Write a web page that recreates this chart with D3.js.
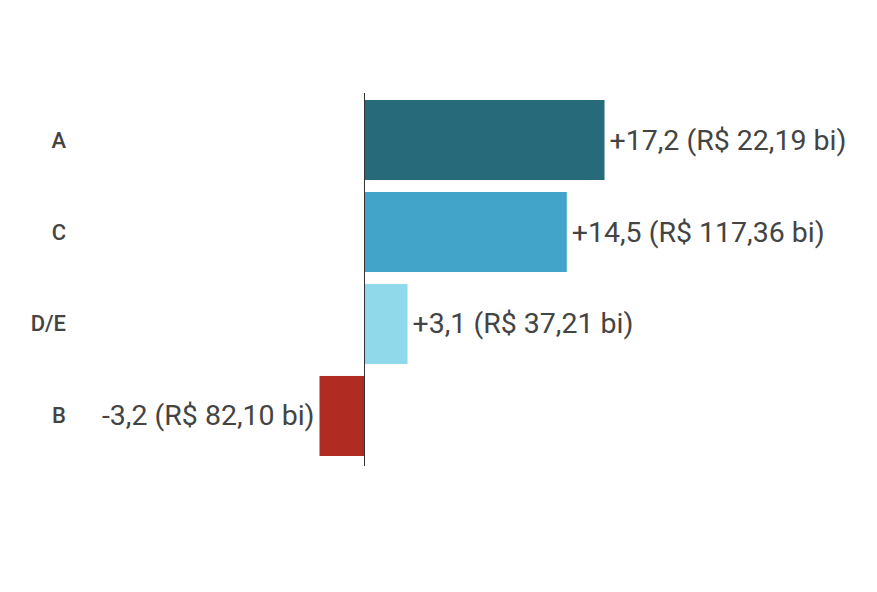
<!DOCTYPE html>
<html>
<head>
<meta charset="utf-8">
<script src="https://cdn.jsdelivr.net/npm/d3@7"></script>
<style>
  body { margin: 0; background: #fff; }
  svg { font-family: Roboto, "Noto Sans", sans-serif; }
</style>
</head>
<body>
<svg id="main" width="877" height="592"></svg>
<script>
    // data
    const categories = ["A", "C", "D/E", "B"];
    const values = [17.2, 14.5, 3.1, -3.2];
    const labels = ["+17,2 (R$ 22,19 bi)", "+14,5 (R$ 117,36 bi)", "+3,1 (R$ 37,21 bi)", "-3,2 (R$ 82,10 bi)"];
    const colors = ["#276b7b", "#42a4c8", "#8fd9ea", "#b02b22"];

    const svg = d3.select('svg#main');

    const x = d3.scaleLinear()
        .domain([-3.2, 17.2])
        .range([319.5, 604.5]);

    const y = d3.scaleBand()
        .domain(categories)
        .range([92, 464])
        .paddingInner(0.13)
        .paddingOuter(0.087);

    const dataSet = categories.map((c, i) => ({cat: c, v: values[i], label: labels[i], color: colors[i]}));

    // bars
    svg.append("g")
        .selectAll("rect")
        .data(dataSet)
        .enter()
        .append("rect")
        .attr("x", d => x(Math.min(0, d.v)))
        .attr("width", d => Math.abs(x(d.v) - x(0)))
        .attr("y", d => y(d.cat))
        .attr("height", y.bandwidth())
        .attr("fill", d => d.color);

    // zero line
    svg.append("line")
        .attr("x1", x(0)).attr("x2", x(0))
        .attr("y1", 93).attr("y2", 466)
        .attr("stroke", "#333")
        .attr("stroke-width", 1)
        .attr("shape-rendering", "crispEdges");

    // category labels
    svg.append("g")
        .selectAll("text")
        .data(dataSet)
        .enter()
        .append("text")
        .attr("x", 66)
        .attr("y", d => y(d.cat) + y.bandwidth() / 2)
        .attr("text-anchor", "end")
        .attr("dominant-baseline", "central")
        .attr("fill", "#444")
        .style("font-size", "22px")
        .style("font-weight", 500)
        .text(d => d.cat);

    // value labels
    svg.append("g")
        .selectAll("text")
        .data(dataSet)
        .enter()
        .append("text")
        .attr("x", d => d.v >= 0 ? x(d.v) + 5 : x(d.v) - 5)
        .attr("y", d => y(d.cat) + y.bandwidth() / 2)
        .attr("text-anchor", d => d.v >= 0 ? "start" : "end")
        .attr("dominant-baseline", "central")
        .attr("fill", "#444")
        .style("font-size", "28.5px")
        .text(d => d.label);
</script>
</body>
</html>
